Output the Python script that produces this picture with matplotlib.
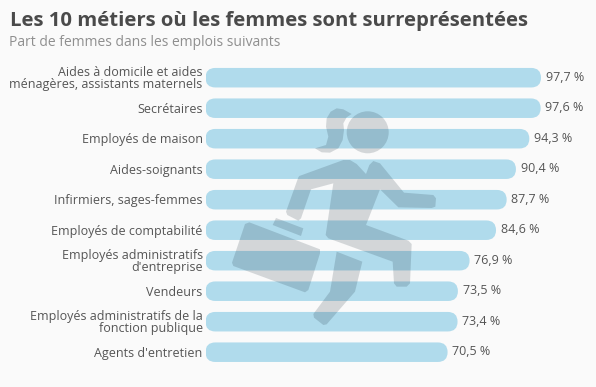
import numpy as np
import matplotlib
matplotlib.use("Agg")
import matplotlib.pyplot as plt
from matplotlib.patches import FancyBboxPatch, Polygon, Circle
from matplotlib.transforms import ScaledTranslation

metiers = ["Aides à domicile et aides\nménagères, assistants maternels", "Secrétaires",
           "Employés de maison", "Aides-soignants", "Infirmiers, sages-femmes",
           "Employés de comptabilité", "Employés administratifs\nd'entreprise", "Vendeurs",
           "Employés administratifs de la\nfonction publique", "Agents d'entretien"]
parts = [97.7, 97.6, 94.3, 90.4, 87.7, 84.6, 76.9, 73.5, 73.4, 70.5]
etiquettes = ["97,7 %", "97,6 %", "94,3 %", "90,4 %", "87,7 %", "84,6 %", "76,9 %", "73,5 %", "73,4 %", "70,5 %"]

titre = "Les 10 métiers où les femmes sont surreprésentées"
sous_titre = "Part de femmes dans les emplois suivants"

# silhouette (pixels du zoom x3, origine 200,90)
corps = [(298,258),(430,210),(450,210),(470,222),(498,252),(508,225),(520,213),(540,220),(612,308),(700,315),
         (708,325),(706,350),(695,354),(595,352),(540,298),(498,405),(625,452),(635,462),(630,580),(620,590),
         (590,590),(582,580),(578,515),(385,445),(377,435),(400,280),(333,298),(303,385),(295,392),(262,375),
         (258,365),(295,262)]
jambe = [(410,485),(487,515),(465,605),(380,703),(370,705),(342,683),(340,672),(390,605)]
valise = [(148,397),(360,478),(360,490),(325,600),(315,607),(100,528),(96,518),(135,402)]
poignee = [(228,384),(310,415),(303,438),(218,405)]
queue = [(455,72),(430,58),(410,55),(392,65),(380,85),(378,110),(385,140),(378,165),(345,175),(365,187),
         (390,188),(415,175),(428,150),(432,120),(430,100),(440,82)]

W, H = 596, 387
x0, px_x, y0, px_y = 205.5, 3.434, 77.7, 30.5
fond = "#fafafa"
bleu = "#b0dbec"
gris = "#4a4a4a"

plt.rcParams["font.family"] = ["Open Sans", "DejaVu Sans"]
fig = plt.figure(figsize=(W / 100, H / 100), dpi=100, facecolor=fond)
ax = fig.add_axes([x0 / W, 0, (W - x0) / W, 1], facecolor="none")
ax.set_xlim(0, (W - x0) / px_x)
ax.set_ylim((H - y0) / px_y, -y0 / px_y)

y = np.arange(len(parts))
h = 0.64
r = h * px_y / 2 / px_x
for yi, v, lab in zip(y, parts, etiquettes):
    ax.add_patch(FancyBboxPatch((0, yi - h / 2), v, h, boxstyle=f"round,pad=0,rounding_size={r}",
                                mutation_aspect=px_x / px_y, fc=bleu, ec="none"))
    ax.annotate(lab, (v, yi), xytext=(3.4, 0.5), textcoords="offset points", va="center", ha="left",
                fontsize=9, color="#555555")

ax.set_yticks(y)
ax.set_yticklabels(metiers, fontsize=9, color="#555555", linespacing=0.95)
ax.tick_params(axis="y", length=0, pad=2)
decale = ScaledTranslation(0, 0.7 / 100, fig.dpi_scale_trans)
for t in ax.get_yticklabels():
    t.set_transform(t.get_transform() + decale)
ax.set_xticks([])
for s in ax.spines.values():
    s.set_visible(False)

# calque en pixels pour la silhouette et les titres
over = fig.add_axes([0, 0, 1, 1], facecolor="none")
over.set_xlim(0, W)
over.set_ylim(H, 0)
over.axis("off")
pieces = [corps, jambe, valise, poignee, queue]
teinte = dict(fc="#0a1e2c", ec="none", alpha=0.16)
for p in pieces:
    pts = np.array(p) / 3 + [200, 90]
    over.add_patch(Polygon(pts, closed=True, **teinte))
over.add_patch(Circle((367.7, 132.3), 21, **teinte))

over.text(9.5, 21, titre, fontsize=14.55, fontweight="bold", color=gris, va="center", ha="left")
over.text(9, 43, sous_titre, fontsize=10, color="#8f8f8f", va="center", ha="left")

fig.savefig("out.png", dpi=100, facecolor=fond)
